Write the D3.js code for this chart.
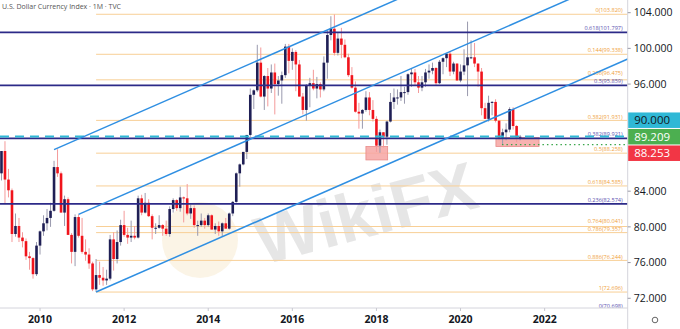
<!DOCTYPE html>
<html>
<head>
<meta charset="utf-8">
<script src="https://cdn.jsdelivr.net/npm/d3@7"></script>
<style>
  html, body { margin: 0; padding: 0; background: #fff; }
  svg { display: block; font-family: "Open Sans", sans-serif; }
</style>
</head>
<body>
<svg id="chart" width="680" height="329"></svg>
<script>
// monthly candles, first one is Jan 2009 (month index -12, Jan 2010 = 0)
const firstIndex = -12;
const opens = [
  81.3, 86.0, 88.5, 85.3, 84.1, 79.2, 80.1, 78.8, 78.4, 76.7, 76.5, 74.7,
  77.9, 79.5, 80.4, 81.0, 81.8, 86.7, 86.0, 81.6, 83.1, 79.1, 77.2, 81.1,
  79.0, 77.2, 76.9, 75.9, 73.0, 74.6, 74.3, 74.0, 74.2, 78.6, 76.4, 78.3,
  80.2, 79.1, 78.8, 79.0, 78.8, 83.2, 81.6, 82.7, 81.2, 79.9, 79.9, 80.2,
  79.8, 79.2, 82.0, 83.0, 82.1, 83.3, 83.2, 81.5, 82.1, 80.2, 80.2, 80.7,
  80.2, 81.3, 79.7, 80.1, 79.5, 80.4, 79.8, 81.5, 82.8, 86.0, 87.0, 88.4,
  90.3, 94.8, 95.3, 98.4, 94.6, 96.9, 95.5, 97.3, 96.0, 96.4, 97.0, 100.2,
  98.6, 99.6, 98.2, 94.6, 93.1, 95.9, 96.1, 95.5, 96.0, 95.4, 98.4, 101.5,
  102.2, 99.5, 101.1, 100.4, 99.0, 97.0, 95.6, 92.9, 92.7, 93.1, 94.5, 93.1,
  92.1, 89.1, 90.6, 90.1, 91.8, 94.0, 94.5, 94.5, 95.1, 95.1, 97.1, 97.3,
  96.2, 95.6, 96.2, 97.3, 97.5, 97.8, 96.1, 98.5, 98.9, 99.4, 97.4, 98.3,
  96.4, 97.4, 98.1, 99.0, 99.0, 98.3, 97.4, 93.3, 92.1, 93.9, 94.0, 91.9,
  89.9, 90.6, 90.9, 93.2, 91.3, 90.0
];
const highs = [
  86.5, 88.5, 89.6, 86.5, 84.3, 81.5, 81.0, 79.4, 78.7, 77.2, 76.6, 78.3,
  79.6, 81.3, 82.0, 82.7, 87.4, 88.7, 86.2, 83.5, 83.3, 79.3, 81.4, 81.4,
  81.0, 78.6, 77.6, 76.1, 76.4, 76.1, 75.5, 75.2, 79.1, 79.4, 79.6, 80.8,
  81.8, 79.9, 80.7, 80.1, 83.5, 83.6, 83.8, 83.1, 81.4, 80.4, 81.3, 80.3,
  80.7, 82.3, 83.2, 83.1, 84.5, 83.4, 84.8, 82.5, 82.4, 80.7, 81.5, 81.0,
  81.5, 81.4, 80.4, 80.6, 80.5, 81.0, 81.6, 82.9, 86.1, 87.1, 88.4, 90.3,
  95.5, 95.4, 100.4, 100.1, 97.0, 97.8, 98.2, 98.3, 96.9, 97.4, 100.5, 100.5,
  100.0, 99.8, 98.7, 95.0, 96.0, 96.7, 97.6, 96.8, 96.2, 99.1, 102.0, 103.6,
  103.8, 101.8, 102.3, 101.0, 99.4, 97.9, 96.3, 93.9, 93.2, 95.2, 95.1, 94.2,
  92.4, 90.9, 90.6, 91.9, 95.0, 95.5, 95.4, 96.9, 95.7, 97.2, 97.7, 97.7,
  96.9, 96.9, 97.7, 98.2, 98.4, 97.9, 98.7, 99.0, 99.4, 99.7, 98.5, 98.3,
  98.2, 99.9, 103.0, 100.9, 100.6, 98.3, 97.8, 93.9, 94.7, 94.1, 94.3, 91.9,
  91.0, 91.6, 93.4, 93.4, 91.4, 90.3
];
const lows = [
  80.4, 85.2, 82.6, 83.3, 78.3, 78.9, 78.3, 77.7, 76.3, 75.2, 74.2, 74.5,
  76.9, 79.0, 79.6, 80.0, 81.7, 85.6, 81.6, 80.1, 79.1, 75.9, 75.6, 78.8,
  77.0, 76.2, 75.3, 72.8, 72.7, 73.5, 73.4, 73.5, 74.0, 75.1, 75.9, 77.9,
  78.9, 78.1, 78.3, 78.6, 78.7, 81.3, 81.5, 81.1, 78.6, 79.2, 79.8, 79.0,
  79.0, 78.9, 81.6, 81.8, 81.7, 80.5, 81.3, 80.9, 79.9, 79.0, 80.0, 79.8,
  80.0, 79.7, 79.2, 79.0, 78.9, 79.8, 79.7, 81.2, 82.7, 84.5, 86.9, 87.6,
  90.1, 93.2, 95.1, 94.5, 93.1, 93.5, 95.0, 92.6, 94.7, 93.8, 96.7, 97.2,
  97.6, 95.2, 94.6, 92.6, 91.9, 93.4, 95.3, 94.4, 94.5, 95.2, 96.6, 100.9,
  99.2, 99.2, 98.9, 98.9, 96.8, 95.5, 92.8, 91.0, 91.0, 92.9, 92.5, 91.8,
  88.4, 88.3, 88.9, 89.2, 91.7, 93.2, 93.7, 94.1, 93.8, 94.8, 95.7, 95.9,
  95.0, 95.2, 95.7, 96.6, 97.1, 95.8, 96.0, 97.1, 97.9, 96.9, 97.1, 96.4,
  96.2, 97.0, 94.65, 98.8, 97.9, 95.7, 92.5, 92.1, 91.8, 92.5, 91.7, 89.7,
  89.2, 89.7, 90.6, 90.9, 89.5, 89.7
];
const closes = [
  86.0, 88.5, 85.3, 84.1, 79.2, 80.1, 78.8, 78.4, 76.7, 76.5, 74.7, 77.9,
  79.5, 80.4, 81.0, 81.8, 86.7, 86.0, 81.6, 83.1, 79.1, 77.2, 81.1, 79.0,
  77.2, 76.9, 75.9, 73.0, 74.6, 74.3, 74.0, 74.2, 78.6, 76.4, 78.3, 80.2,
  79.1, 78.8, 79.0, 78.8, 83.2, 81.6, 82.7, 81.2, 79.9, 79.9, 80.2, 79.8,
  79.2, 82.0, 83.0, 82.1, 83.3, 83.2, 81.5, 82.1, 80.2, 80.2, 80.7, 80.2,
  81.3, 79.7, 80.1, 79.5, 80.4, 79.8, 81.5, 82.8, 86.0, 87.0, 88.4, 90.3,
  94.8, 95.3, 98.4, 94.6, 96.9, 95.5, 97.3, 96.0, 96.4, 97.0, 100.2, 98.6,
  99.6, 98.2, 94.6, 93.1, 95.9, 96.1, 95.5, 96.0, 95.4, 98.4, 101.5, 102.2,
  99.5, 101.1, 100.4, 99.0, 97.0, 95.6, 92.9, 92.7, 93.1, 94.5, 93.1, 92.1,
  89.1, 90.6, 90.1, 91.8, 94.0, 94.5, 94.5, 95.1, 95.1, 97.1, 97.3, 96.2,
  95.6, 96.2, 97.3, 97.5, 97.8, 96.1, 98.5, 98.9, 99.4, 97.4, 98.3, 96.4,
  97.4, 98.1, 99.0, 99.0, 98.3, 97.4, 93.3, 92.1, 93.9, 94.0, 91.9, 89.9,
  90.6, 90.9, 93.2, 91.3, 90.0, 90.1
];

const yearTicks = [2010, 2012, 2014, 2016, 2018, 2020, 2022];
const priceTicks = [72, 76, 80, 84, 88, 92, 96, 100, 104];

// fib retracement 103.820 -> 72.696 (drawn from the May 2011 low)
const fibOrangeStart = 16;
const fibOrange = [
  ["0", 103.820], ["0.144", 99.338], ["0.236", 96.475], ["0.382", 91.931],
  ["0.5", 88.258], ["0.618", 84.585], ["0.764", 80.041], ["0.786", 79.357],
  ["0.886", 76.244], ["1", 72.696]
];
// long term fib levels across the whole chart
const fibNavy = [
  ["0.618", 101.797], ["0.5", 95.859], ["0.382", 89.921], ["0.236", 82.574], ["0", 70.698]
];

// trend channel lines, [month index, price]
const channels = [
  [[4, 88.65], [102, 105.5]],
  [[11, 81.4], [151, 105.5]],
  [[16, 72.7], [170, 99.2]]
];

// support zones [from month, to month, low, high]
const zones = [
  [93, 99.2, 87.5, 89.0],
  [130.1, 142.4, 89.0, 90.0]
];

const dashedLevel = 90.0;
const dottedLevel = 89.209;
const dottedFrom = 130.1;

const priceBoxes = [
  { value: 90.000, fill: "#2fb8d6", text: "#131722" },
  { value: 89.209, fill: "#4caf50", text: "#ffffff" },
  { value: 88.253, fill: "#f23645", text: "#ffffff" }
];

const W = 680, H = 329;
const plotW = 627.7, plotH = 308;

const svg = d3.select("#chart");

const x = d3.scaleLinear().domain([-11.42, 167.7]).range([0, plotW]);
const y = d3.scaleLinear().domain([70.91, 105.42]).range([plotH, 0]);

svg.append("defs").append("clipPath").attr("id", "plot")
  .append("rect").attr("width", plotW).attr("height", plotH);

// watermark
const wm = svg.append("g").attr("pointer-events", "none");
wm.append("circle").attr("cx", 200).attr("cy", 240).attr("r", 38)
  .attr("fill", "#f8edd6").attr("opacity", 0.6);
wm.append("text")
  .attr("transform", "translate(372,236) rotate(-15)")
  .attr("text-anchor", "middle")
  .attr("font-family", "Liberation Sans, Arial, sans-serif")
  .attr("font-weight", "bold")
  .attr("font-size", 68)
  .attr("fill", "#e2e2e2")
  .attr("opacity", 0.85)
  .text("WikiFX");

const plot = svg.append("g").attr("clip-path", "url(#plot)");

// orange fib lines
plot.append("g").selectAll("line").data(fibOrange).enter().append("line")
  .attr("x1", x(fibOrangeStart)).attr("x2", plotW)
  .attr("y1", (d) => y(d[1])).attr("y2", (d) => y(d[1]))
  .attr("stroke", "#f8cf96").attr("stroke-width", 1);

// zones
plot.append("g").selectAll("rect").data(zones).enter().append("rect")
  .attr("x", (d) => x(d[0])).attr("width", (d) => x(d[1]) - x(d[0]))
  .attr("y", (d) => y(d[3])).attr("height", (d) => y(d[2]) - y(d[3]))
  .attr("fill", "#f6a4a2").attr("fill-opacity", 0.85)
  .attr("stroke", "#e88c8a").attr("stroke-width", 0.8);

// candles
const candles = opens.map((o, i) => ({
  i: i + firstIndex, o, h: highs[i], l: lows[i], c: closes[i]
}));
const bodyW = 2.6;
const cg = plot.append("g").selectAll("g").data(candles).enter().append("g");
cg.append("line")
  .attr("x1", (d) => x(d.i)).attr("x2", (d) => x(d.i))
  .attr("y1", (d) => y(d.h)).attr("y2", (d) => y(d.l))
  .attr("stroke", (d) => (d.c >= d.o ? "#9a9aae" : "#f49a9a"))
  .attr("stroke-width", 1);
cg.append("rect")
  .attr("x", (d) => x(d.i) - bodyW / 2).attr("width", bodyW)
  .attr("y", (d) => y(Math.max(d.o, d.c)))
  .attr("height", (d) => Math.max(1, Math.abs(y(d.o) - y(d.c))))
  .attr("fill", (d) => (d.c >= d.o ? "#1f1f55" : "#f0141c"));

// navy fib lines
plot.append("g").selectAll("line").data(fibNavy).enter().append("line")
  .attr("x1", 0).attr("x2", plotW)
  .attr("y1", (d) => y(d[1])).attr("y2", (d) => y(d[1]))
  .attr("stroke", "#2c2a88").attr("stroke-width", 1.6);

// fib labels, nudged upward where two of them would collide
const fibLabels = fibOrange.map((d) => ({ k: d[0], v: d[1], color: "#f0a23c", gap: 1.8 }))
  .concat(fibNavy.map((d) => ({ k: d[0], v: d[1], color: "#5a52b0", gap: 2.2 })))
  .sort((a, b) => a.v - b.v);
let lastY = Infinity;
fibLabels.forEach((d) => {
  d.ly = Math.min(y(d.v) - d.gap, lastY - 7.8);
  lastY = d.ly;
});
plot.append("g").selectAll("text").data(fibLabels).enter().append("text")
  .attr("x", plotW - 5).attr("y", (d) => d.ly)
  .attr("text-anchor", "end").attr("font-size", 5.6).attr("fill", (d) => d.color)
  .text((d) => `${d.k}(${d.v.toFixed(3)})`);

// cyan dashed level
plot.append("line")
  .attr("x1", 0).attr("x2", plotW)
  .attr("y1", y(dashedLevel) - 1).attr("y2", y(dashedLevel) - 1)
  .attr("stroke", "#2fb8d6").attr("stroke-width", 2)
  .attr("stroke-dasharray", "9,6");

// green dotted level
plot.append("line")
  .attr("x1", x(dottedFrom) + 6).attr("x2", plotW)
  .attr("y1", y(dottedLevel)).attr("y2", y(dottedLevel))
  .attr("stroke", "#3aa64a").attr("stroke-width", 1.2)
  .attr("stroke-dasharray", "1.5,3");

// channel lines
const line = d3.line().x((d) => x(d[0])).y((d) => y(d[1]));
plot.append("g").selectAll("path").data(channels).enter().append("path")
  .attr("d", line).attr("fill", "none")
  .attr("stroke", "#2f8fe2").attr("stroke-width", 1.5);

// axes
svg.append("line").attr("x1", plotW).attr("x2", plotW).attr("y1", 0).attr("y2", H)
  .attr("stroke", "#d4d4dc").attr("stroke-width", 1);
svg.append("line").attr("x1", 0).attr("x2", plotW).attr("y1", plotH).attr("y2", plotH)
  .attr("stroke", "#d4d4dc").attr("stroke-width", 1);

const xAxis = svg.append("g").selectAll("g").data(yearTicks).enter().append("g")
  .attr("transform", (d) => `translate(${x((d - 2010) * 12)},0)`);
xAxis.append("line").attr("y1", plotH).attr("y2", plotH + 3).attr("stroke", "#c8c8d0");
xAxis.append("text").attr("y", plotH + 15).attr("text-anchor", "middle")
  .attr("font-size", 10.5).attr("font-weight", "bold").attr("fill", "#131722")
  .text((d) => d);

// price boxes, stacked upward so they do not overlap
const boxH = 15.5;
const sorted = priceBoxes.slice().sort((a, b) => a.value - b.value);
let prev = Infinity;
sorted.forEach((b) => {
  const cy = Math.min(y(b.value), prev - boxH - 1);
  b.cy = cy;
  prev = cy;
});

// price ticks, hiding the ones covered by a price box
const covered = (v) => sorted.some((b) => Math.abs(y(v) - b.cy) < boxH / 2 + 5);
const yAxis = svg.append("g").selectAll("g").data(priceTicks.filter((v) => !covered(v)))
  .enter().append("g")
  .attr("transform", (d) => `translate(${plotW},${y(d)})`);
yAxis.append("line").attr("x1", 0).attr("x2", 3).attr("stroke", "#9a9aa6");
yAxis.append("text").attr("x", 6).attr("dy", "0.36em")
  .attr("font-size", 10.5).attr("fill", "#131722")
  .text((d) => d.toFixed(3));

const pb = svg.append("g").selectAll("g").data(sorted).enter().append("g")
  .attr("transform", (d) => `translate(${plotW + 0.5},${d.cy})`);
pb.append("rect").attr("y", -boxH / 2).attr("width", W - plotW).attr("height", boxH)
  .attr("fill", (d) => d.fill);
pb.append("text").attr("x", 6).attr("dy", "0.36em")
  .attr("font-size", 11.5).attr("fill", (d) => d.text)
  .text((d) => d.value.toFixed(3));

// title
svg.append("text").attr("x", 2).attr("y", 8.5)
  .attr("font-size", 7).attr("fill", "#555")
  .text("U.S. Dollar Currency Index \u00b7 1M \u00b7 TVC");

// settings glyph
svg.append("circle").attr("cx", 655).attr("cy", 320).attr("r", 2.8)
  .attr("fill", "none").attr("stroke", "#555").attr("stroke-width", 0.9);
</script>
</body>
</html>
